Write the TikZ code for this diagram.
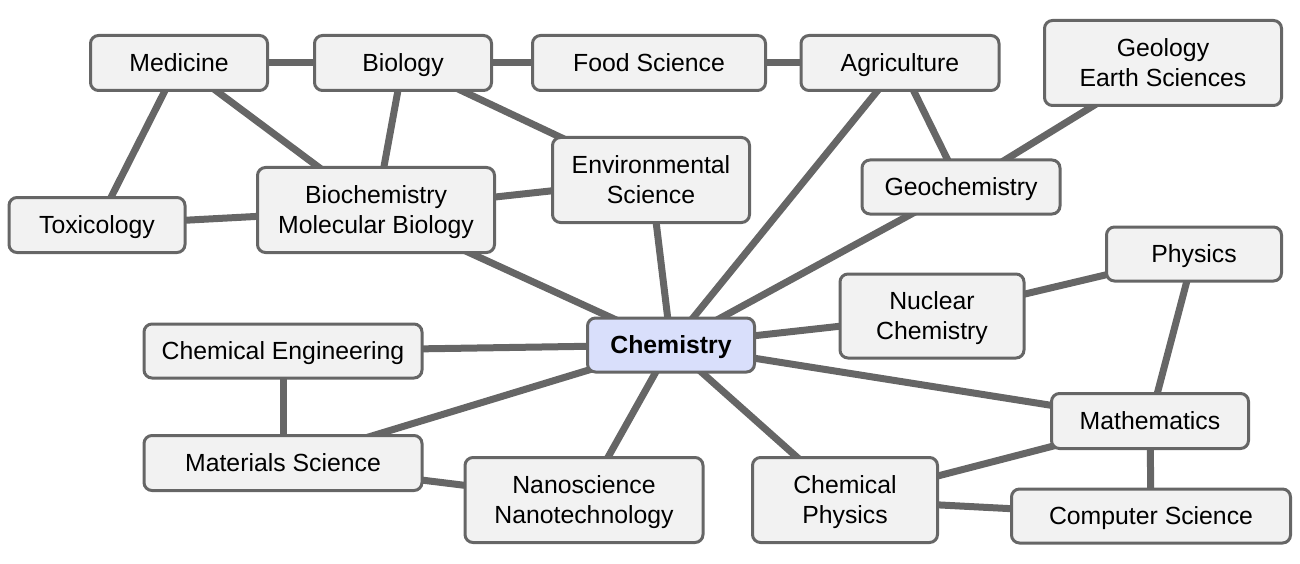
\documentclass[tikz,border=0pt]{standalone}
\usepackage{fontspec}
\setmainfont{Liberation Sans}
\usetikzlibrary{backgrounds}
\definecolor{edgegray}{HTML}{666666}
\definecolor{boxfill}{HTML}{F2F2F2}
\definecolor{chemfill}{HTML}{D9DFFB}
\tikzset{
  topic/.style={draw=edgegray, line width=3pt, fill=boxfill, rounded corners=8pt,
    align=center, inner sep=0pt, text height=17.5pt, text depth=0pt,
    font=\fontsize{24.8}{30}\selectfont},
  twoline/.style={text height=47.5pt, text depth=0pt},
  link/.style={draw=edgegray, line width=7pt},
}
\begin{document}
\begin{tikzpicture}[x=1pt,y=-1pt]
\useasboundingbox (0,0) rectangle (1300,564);
\node[topic, minimum width=177pt, minimum height=55pt] (med) at (179,63) {Medicine};
\node[topic, minimum width=177pt, minimum height=55pt] (bio) at (403,63) {Biology};
\node[topic, minimum width=233pt, minimum height=55pt] (food) at (649,63) {Food Science};
\node[topic, minimum width=198pt, minimum height=55pt] (agri) at (900,63) {Agriculture};
\node[topic, twoline, minimum width=237pt, minimum height=85pt] (geo) at (1163,63) {Geology\\Earth Sciences};
\node[topic, twoline, minimum width=197pt, minimum height=85pt] (env) at (651,180) {Environmental\\Science};
\node[topic, minimum width=198pt, minimum height=54pt] (gchem) at (961,187) {Geochemistry};
\node[topic, minimum width=176pt, minimum height=55pt] (tox) at (97,225) {Toxicology};
\node[topic, twoline, minimum width=237pt, minimum height=85pt] (biochem) at (376,210) {Biochemistry\\Molecular Biology};
\node[topic, minimum width=175pt, minimum height=54pt] (phys) at (1194,254) {Physics};
\node[topic, twoline, minimum width=184pt, minimum height=84pt] (nuc) at (932,316) {Nuclear\\Chemistry};
\node[topic, minimum width=167pt, minimum height=54pt, fill=chemfill, font=\fontsize{24.8}{30}\selectfont\bfseries] (chem) at (671,345) {Chemistry};
\node[topic, minimum width=278pt, minimum height=54pt] (cheng) at (283,351) {Chemical Engineering};
\node[topic, minimum width=197pt, minimum height=55pt] (math) at (1150,421) {Mathematics};
\node[topic, minimum width=278pt, minimum height=55pt] (mat) at (283,463) {Materials Science};
\node[topic, twoline, minimum width=238pt, minimum height=85pt] (nano) at (584,500) {Nanoscience\\Nanotechnology};
\node[topic, twoline, minimum width=185pt, minimum height=85pt] (cphys) at (845,500) {Chemical\\Physics};
\node[topic, minimum width=279pt, minimum height=54pt] (cs) at (1151,516) {Computer Science};
\begin{scope}[on background layer]
\draw[link] (med.center) -- (bio.center);
\draw[link] (bio.center) -- (food.center);
\draw[link] (food.center) -- (agri.center);
\draw[link] (med.center) -- (tox.center);
\draw[link] (med.center) -- (biochem.center);
\draw[link] (bio.center) -- (biochem.center);
\draw[link] (bio.center) -- (env.center);
\draw[link] (tox.center) -- (biochem.center);
\draw[link] (biochem.center) -- (env.center);
\draw[link] (biochem.center) -- (chem.center);
\draw[link] (env.center) -- (chem.center);
\draw[link] (agri.center) -- (chem.center);
\draw[link] (agri.center) -- (gchem.center);
\draw[link] (geo.center) -- (gchem.center);
\draw[link] (gchem.center) -- (chem.center);
\draw[link] (nuc.center) -- (chem.center);
\draw[link] (nuc.center) -- (phys.center);
\draw[link] (phys.center) -- (math.center);
\draw[link] (chem.center) -- (math.center);
\draw[link] (math.center) -- (cphys.center);
\draw[link] (math.center) -- (cs.center);
\draw[link] (cphys.center) -- (cs.center);
\draw[link] (chem.center) -- (cphys.center);
\draw[link] (chem.center) -- (nano.center);
\draw[link] (chem.center) -- (mat.center);
\draw[link] (chem.center) -- (cheng.center);
\draw[link] (cheng.center) -- (mat.center);
\draw[link] (mat.center) -- (nano.center);
\end{scope}
\end{tikzpicture}
\end{document}
